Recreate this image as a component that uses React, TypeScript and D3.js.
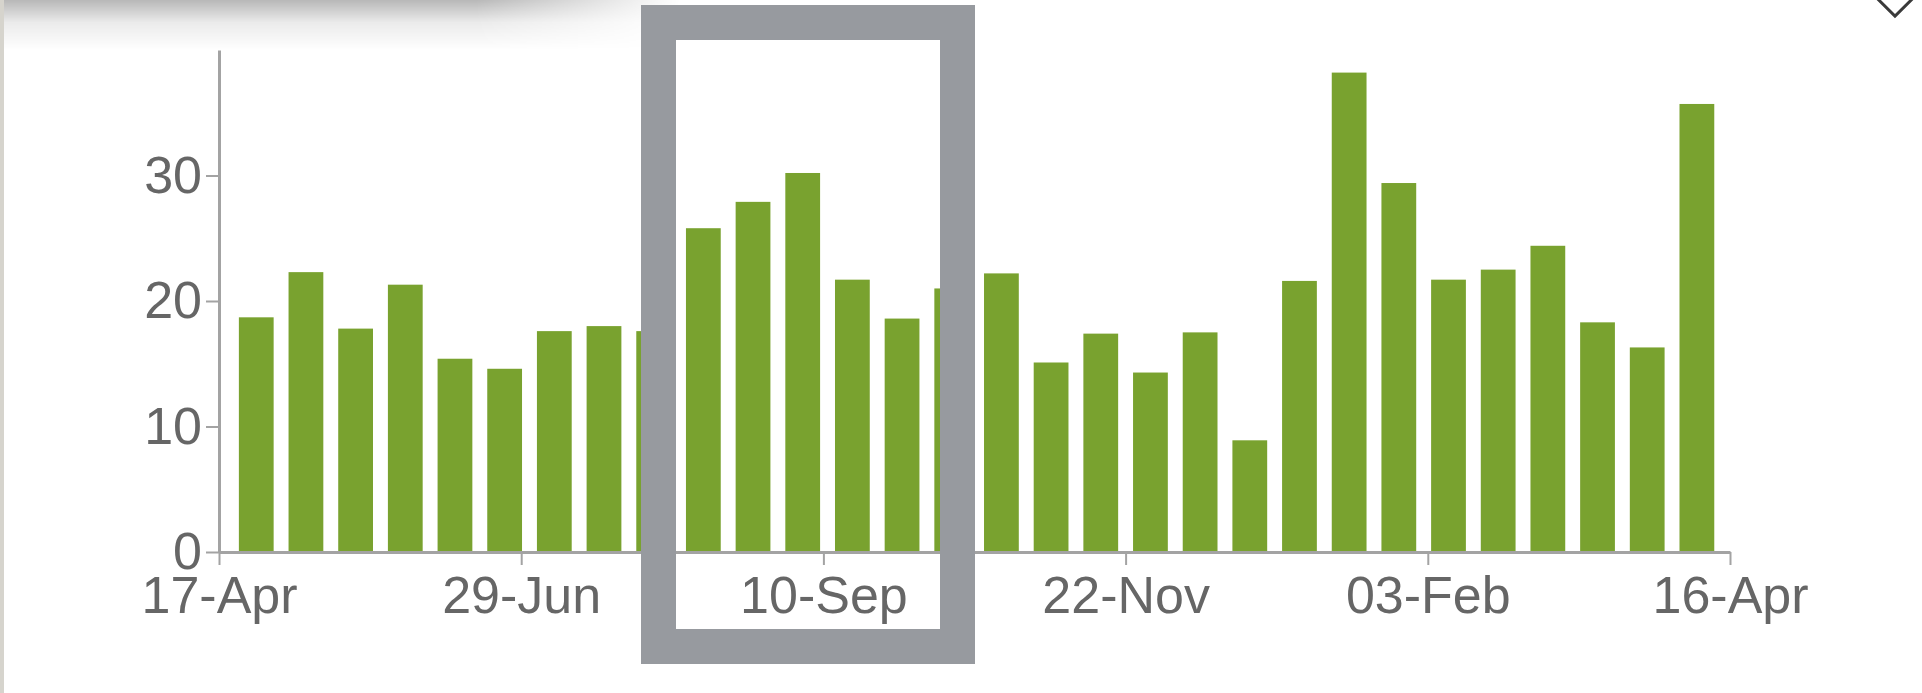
import React, { useEffect, useRef } from 'react';
import * as d3 from 'd3';

// one bar per 12-day period (centre date)
const barDates = [
  '2015-04-26', '2015-05-08', '2015-05-20', '2015-06-01', '2015-06-13',
  '2015-06-25', '2015-07-07', '2015-07-19', '2015-07-31', '2015-08-12',
  '2015-08-24', '2015-09-05', '2015-09-17', '2015-09-29', '2015-10-11',
  '2015-10-23', '2015-11-04', '2015-11-16', '2015-11-28', '2015-12-10',
  '2015-12-22', '2016-01-03', '2016-01-15', '2016-01-27', '2016-02-08',
  '2016-02-20', '2016-03-03', '2016-03-15', '2016-03-27', '2016-04-08'
];

const barValues = [
  18.7, 22.3, 17.8, 21.3, 15.4, 14.6, 17.6, 18.0, 17.6, 25.8,
  27.9, 30.2, 21.7, 18.6, 21.0, 22.2, 15.1, 17.4, 14.3, 17.5,
  8.9, 21.6, 38.2, 29.4, 21.7, 22.5, 24.4, 18.3, 16.3, 35.7
];

const xTickDates = ['2015-04-17', '2015-06-29', '2015-09-10', '2015-11-22', '2016-02-03', '2016-04-16'];
const yTicks = [0, 10, 20, 30];
const yMax = 40;

const App = () => {
  const svgRef = useRef<SVGSVGElement>(null);

  useEffect(() => {
    const svg = d3.select(svgRef.current);
    svg.selectAll('*').remove();

    const width = 1922;
    const height = 693;
    const margin = { top: 50, right: 192, bottom: 141, left: 219 };

    const parse = d3.timeParse('%Y-%m-%d');
    const tickDates = xTickDates.map(d => parse(d) as Date);
    const data = barDates.map((d, i) => ({ date: parse(d) as Date, value: barValues[i] }));

    const x = d3.scaleTime()
      .domain([tickDates[0], tickDates[tickDates.length - 1]])
      .range([margin.left, width - margin.right]);

    const y = d3.scaleLinear()
      .domain([0, yMax])
      .range([height - margin.bottom, margin.top]);

    const barW = (x(data[1].date) - x(data[0].date)) * 0.7;

    // page edge / shadow from the screenshot
    const defs = svg.append('defs');
    const shade = defs.append('linearGradient').attr('id', 'shade').attr('x1', 0).attr('x2', 0).attr('y1', 0).attr('y2', 1);
    shade.append('stop').attr('offset', 0).attr('stop-color', '#000').attr('stop-opacity', 0.28);
    shade.append('stop').attr('offset', 0.45).attr('stop-color', '#000').attr('stop-opacity', 0.08);
    shade.append('stop').attr('offset', 1).attr('stop-color', '#000').attr('stop-opacity', 0);
    const fade = defs.append('linearGradient').attr('id', 'fade');
    fade.append('stop').attr('offset', 0).attr('stop-color', '#fff');
    fade.append('stop').attr('offset', 0.7).attr('stop-color', '#fff');
    fade.append('stop').attr('offset', 1).attr('stop-color', '#000');
    defs.append('mask').attr('id', 'fadeMask')
      .append('rect').attr('x', 0).attr('y', 0).attr('width', 680).attr('height', 50).attr('fill', 'url(#fade)');

    svg.append('rect').attr('width', width).attr('height', height).attr('fill', '#fff');
    svg.append('rect')
      .attr('x', 0).attr('y', 0).attr('width', 680).attr('height', 50)
      .attr('fill', 'url(#shade)')
      .attr('mask', 'url(#fadeMask)');
    svg.append('rect').attr('x', 0).attr('y', 0).attr('width', 4).attr('height', height).attr('fill', '#d6d4cd');

    // bars
    svg.append('g')
      .selectAll('rect')
      .data(data)
      .join('rect')
      .attr('x', d => x(d.date) - barW / 2)
      .attr('y', d => y(d.value))
      .attr('width', barW)
      .attr('height', d => y(0) - y(d.value))
      .attr('fill', '#79a22f');

    const styleAxis = g => {
      g.select('.domain').attr('stroke', '#a3a3a3').attr('stroke-width', 3);
      g.selectAll('.tick line').attr('stroke', '#a3a3a3').attr('stroke-width', 2);
      g.selectAll('.tick text')
        .attr('fill', '#666')
        .style('font-family', '"Liberation Sans", Arial, sans-serif')
        .style('font-size', '52px');
    };

    svg.append('g')
      .attr('transform', `translate(0,${y(0)})`)
      .call(
        d3.axisBottom(x)
          .tickValues(tickDates)
          .tickFormat(d3.timeFormat('%d-%b'))
          .tickSize(13)
          .tickSizeOuter(0)
          .tickPadding(11)
      )
      .call(styleAxis);

    svg.append('g')
      .attr('transform', `translate(${margin.left},0)`)
      .call(
        d3.axisLeft(y)
          .tickValues(yTicks)
          .tickSize(13)
          .tickSizeOuter(0)
          .tickPadding(4)
      )
      .call(styleAxis);

    // grey selection frame drawn over the chart
    svg.append('rect')
      .attr('x', 658.5)
      .attr('y', 22.5)
      .attr('width', 299)
      .attr('height', 624)
      .attr('fill', 'none')
      .attr('stroke', '#979a9f')
      .attr('stroke-width', 35);

    // corner icon cut off at the top right
    svg.append('rect')
      .attr('x', -15)
      .attr('y', -15)
      .attr('width', 30)
      .attr('height', 30)
      .attr('transform', 'translate(1895,-5) rotate(45)')
      .attr('fill', 'none')
      .attr('stroke', '#3a3a3a')
      .attr('stroke-width', 3);
  }, []);

  return (
    <div style={{ position: 'absolute', left: 0, top: 0 }}>
      <svg ref={svgRef} width="1922" height="693" style={{ display: 'block' }}></svg>
    </div>
  );
};

export default App;
